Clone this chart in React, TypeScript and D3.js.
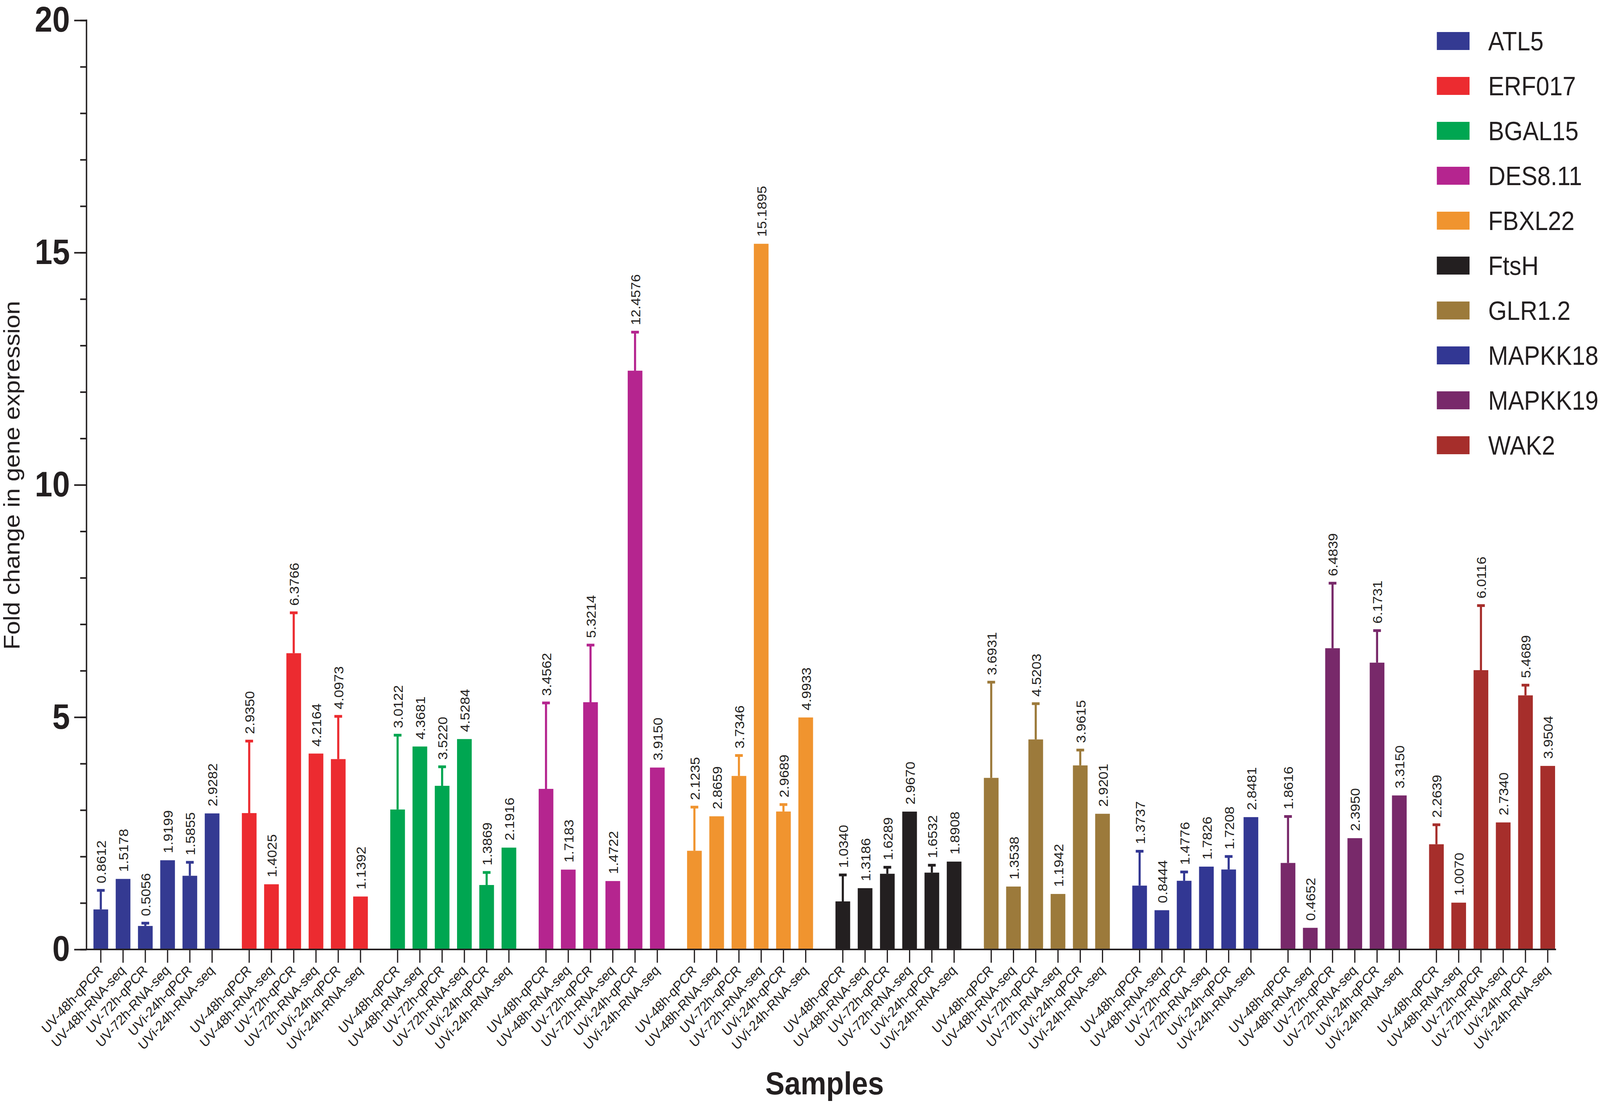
import { useEffect, useRef } from "react";
import * as d3 from "d3";

const genes = ["ATL5", "ERF017", "BGAL15", "DES8.11", "FBXL22", "FtsH", "GLR1.2", "MAPKK18", "MAPKK19", "WAK2"];
const geneColors = ["#343a92", "#ec2b30", "#00a651", "#b5258f", "#f0942f", "#231f20", "#9c7a3b", "#323793", "#78296a", "#a62e2b"];
const samples = ["UV-48h-qPCR", "UV-48h-RNA-seq", "UV-72h-qPCR", "UV-72h-RNA-seq", "UVi-24h-qPCR", "UVi-24h-RNA-seq"];

// one row per gene, one column per sample
const foldChange = [
  [0.8612, 1.5178, 0.5056, 1.9199, 1.5855, 2.9282],
  [2.935, 1.4025, 6.3766, 4.2164, 4.0973, 1.1392],
  [3.0122, 4.3681, 3.522, 4.5284, 1.3869, 2.1916],
  [3.4562, 1.7183, 5.3214, 1.4722, 12.4576, 3.915],
  [2.1235, 2.8659, 3.7346, 15.1895, 2.9689, 4.9933],
  [1.034, 1.3186, 1.6289, 2.967, 1.6532, 1.8908],
  [3.6931, 1.3538, 4.5203, 1.1942, 3.9615, 2.9201],
  [1.3737, 0.8444, 1.4776, 1.7826, 1.7208, 2.8481],
  [1.8616, 0.4652, 6.4839, 2.395, 6.1731, 3.315],
  [2.2639, 1.007, 6.0116, 2.734, 5.4689, 3.9504],
];

// upper error bars (qPCR only)
const errorUp: (number | null)[][] = [
  [0.41, null, 0.06, null, 0.29, null],
  [1.55, null, 0.87, null, 0.92, null],
  [1.6, null, 0.41, null, 0.27, null],
  [1.85, null, 1.23, null, 0.83, null],
  [0.94, null, 0.44, null, 0.15, null],
  [0.57, null, 0.14, null, 0.16, null],
  [2.06, null, 0.77, null, 0.33, null],
  [0.74, null, 0.19, null, 0.28, null],
  [1.0, null, 1.4, null, 0.69, null],
  [0.42, null, 1.39, null, 0.22, null],
];

const yMajorTicks = [0, 5, 10, 15, 20];

const FONT = "'Liberation Sans', Arial, Helvetica, sans-serif";
const INK = "#231f20";

export default function App() {
  const svgRef = useRef<SVGSVGElement>(null);
  const width = 4550;
  const height = 2837;

  useEffect(() => {
    if (!svgRef.current) return;
    const svg = d3.select(svgRef.current);
    svg.selectAll("*").remove();

    const axisX = 246;
    const xEnd = 4425;

    const y = d3.scaleLinear().domain([0, 20]).range([2431, 52]);
    const xGroup = d3.scaleBand<string>().domain(genes).range([255, 4433]).paddingInner(0.1);
    const xInner = d3
      .scaleBand<string>()
      .domain(samples)
      .range([0, xGroup.bandwidth()])
      .paddingInner(0.34)
      .paddingOuter(0.17);
    const bw = xInner.bandwidth();

    const rows = genes.flatMap((gene, gi) =>
      samples.map((sample, si) => ({
        gene,
        sample,
        value: foldChange[gi][si],
        err: errorUp[gi][si],
        color: geneColors[gi],
      }))
    );
    type Row = (typeof rows)[number];
    const cx = (d: Row) => xGroup(d.gene)! + xInner(d.sample)! + bw / 2;
    const top = (d: Row) => y(d.value + (d.err ?? 0));

    // bars
    svg
      .append("g")
      .selectAll("rect")
      .data(rows)
      .join("rect")
      .attr("x", (d) => xGroup(d.gene)! + xInner(d.sample)!)
      .attr("width", bw)
      .attr("y", (d) => y(d.value))
      .attr("height", (d) => y(0) - y(d.value))
      .attr("fill", (d) => d.color);

    // error bars
    const withErr = rows.filter((d) => d.err != null);
    const eg = svg.append("g");
    eg.selectAll("line.stem")
      .data(withErr)
      .join("line")
      .attr("class", "stem")
      .attr("x1", cx)
      .attr("x2", cx)
      .attr("y1", (d) => y(d.value))
      .attr("y2", top)
      .attr("stroke", (d) => d.color)
      .attr("stroke-width", 6);
    eg.selectAll("line.cap")
      .data(withErr)
      .join("line")
      .attr("class", "cap")
      .attr("x1", (d) => cx(d) - 11)
      .attr("x2", (d) => cx(d) + 11)
      .attr("y1", top)
      .attr("y2", top)
      .attr("stroke", (d) => d.color)
      .attr("stroke-width", 7);

    // value labels
    svg
      .append("g")
      .selectAll("text")
      .data(rows)
      .join("text")
      .attr("transform", (d) => `translate(${cx(d) + 2},${top(d) - 18}) rotate(-90)`)
      .attr("dominant-baseline", "central")
      .attr("font-family", FONT)
      .attr("font-size", 36)
      .attr("fill", INK)
      .text((d) => d.value.toFixed(4));

    // y axis: minor then major ticks
    const minor = svg
      .append("g")
      .attr("transform", `translate(${axisX},0)`)
      .call(
        d3.axisLeft(y).tickValues(d3.range(0, 21)).tickSize(18).tickSizeOuter(0).tickFormat(() => "")
      );
    minor.select(".domain").remove();
    minor.selectAll("line").attr("stroke", INK).attr("stroke-width", 4);

    const major = svg
      .append("g")
      .attr("transform", `translate(${axisX},0)`)
      .call(d3.axisLeft(y).tickValues(yMajorTicks).tickSize(35).tickPadding(12).tickFormat(d3.format("d")));
    major.select(".domain").remove();
    major.selectAll("line").attr("stroke", INK).attr("stroke-width", 4);
    major
      .selectAll("text")
      .attr("font-family", FONT)
      .attr("font-weight", "bold")
      .attr("font-size", 90)
      .attr("fill", INK);

    svg
      .append("line")
      .attr("x1", axisX)
      .attr("x2", axisX)
      .attr("y1", y(0) + 2)
      .attr("y2", y(20) - 2)
      .attr("stroke", INK)
      .attr("stroke-width", 4);

    // x axis
    svg
      .append("line")
      .attr("x1", axisX - 2)
      .attr("x2", xEnd)
      .attr("y1", y(0))
      .attr("y2", y(0))
      .attr("stroke", INK)
      .attr("stroke-width", 4);

    const xt = svg.append("g");
    xt.selectAll("line")
      .data(rows)
      .join("line")
      .attr("x1", cx)
      .attr("x2", cx)
      .attr("y1", y(0))
      .attr("y2", y(0) + 34)
      .attr("stroke", INK)
      .attr("stroke-width", 3.5);
    xt.selectAll("text")
      .data(rows)
      .join("text")
      .attr("transform", (d) => `translate(${cx(d) + 8},${y(0) + 56}) rotate(-45)`)
      .attr("text-anchor", "end")
      .attr("font-family", FONT)
      .attr("font-size", 36)
      .attr("fill", INK)
      .text((d) => d.sample);

    // axis titles
    svg
      .append("text")
      .attr("transform", `translate(56,1217) rotate(-90)`)
      .attr("text-anchor", "middle")
      .attr("font-family", FONT)
      .attr("font-size", 63)
      .attr("fill", INK)
      .text("Fold change in gene expression");

    svg
      .append("text")
      .attr("x", 2345)
      .attr("y", 2802)
      .attr("text-anchor", "middle")
      .attr("font-family", FONT)
      .attr("font-weight", "bold")
      .attr("font-size", 82)
      .attr("fill", INK)
      .text("Samples");

    // legend
    const legend = svg
      .append("g")
      .attr("transform", "translate(4086,82)")
      .selectAll("g")
      .data(genes)
      .join("g")
      .attr("transform", (_, i) => `translate(0,${i * 115})`);
    legend
      .append("rect")
      .attr("width", 93)
      .attr("height", 46)
      .attr("fill", (_, i) => geneColors[i]);
    legend
      .append("text")
      .attr("x", 146)
      .attr("y", 23)
      .attr("dominant-baseline", "central")
      .attr("font-family", FONT)
      .attr("font-size", 68)
      .attr("fill", INK)
      .text((d) => d);
  }, []);

  // scale the fixed 4550x2837 drawing to whatever the window really is
  return (
    <svg
      ref={svgRef}
      viewBox={`0 0 ${width} ${height}`}
      preserveAspectRatio="none"
      style={{ position: "fixed", left: 0, top: 0, width: "100vw", height: "100vh", background: "#fff" }}
    />
  );
}
